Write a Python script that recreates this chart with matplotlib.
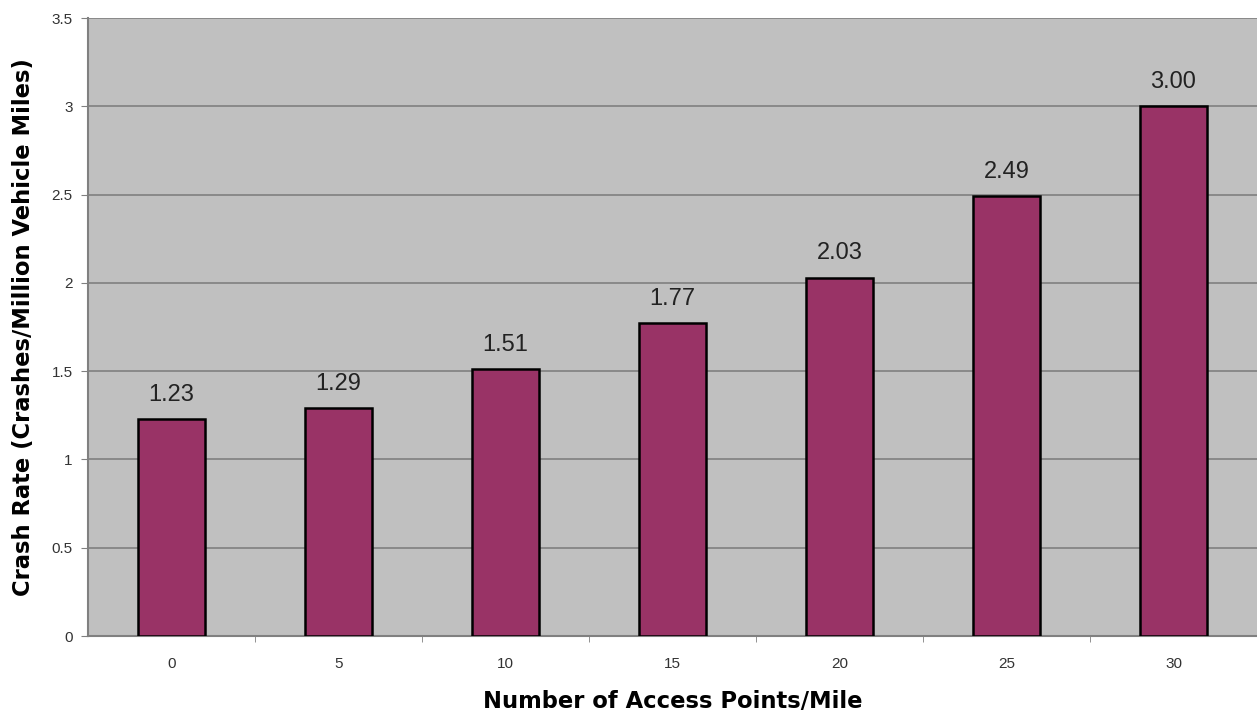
import matplotlib
matplotlib.use('Agg')
import matplotlib.pyplot as plt

plt.rcParams['font.family'] = ['Liberation Sans', 'DejaVu Sans']

access_points = ['0', '5', '10', '15', '20', '25', '30']
crash_rate = [1.23, 1.29, 1.51, 1.77, 2.03, 2.49, 3.00]
y_ticks = [0, 0.5, 1, 1.5, 2, 2.5, 3, 3.5]
y_tick_labels = ['0', '0.5', '1', '1.5', '2', '2.5', '3', '3.5']


def main():
    fig = plt.figure(figsize=(12.57, 7.15), dpi=100)
    ax = fig.add_axes([88 / 1257, 79 / 715, 1 - 88 / 1257, 618 / 715])
    ax.set_facecolor('#c0c0c0')

    x = list(range(len(access_points)))
    ax.bar(x, crash_rate, width=0.4, color='#993366', edgecolor='black',
           linewidth=1.8, zorder=3)
    for xi, val in zip(x, crash_rate):
        ax.text(xi, val + 0.075, '%.2f' % val, ha='center', va='bottom',
                fontsize=17, color='#222222')

    ax.set_xlim(-0.5, len(access_points) - 0.5)
    ax.set_ylim(0, 3.5)
    ax.set_yticks(y_ticks)
    ax.set_yticklabels(y_tick_labels, fontsize=11, color='#333333')
    ax.yaxis.grid(True, color='#808080', linewidth=1.2, zorder=0)
    ax.set_axisbelow(True)

    ax.set_xticks(x)
    ax.set_xticklabels(access_points, fontsize=11, color='#333333')
    ax.set_xticks([i + 0.5 for i in x[:-1]], minor=True)
    ax.tick_params(axis='x', which='major', length=0, pad=15)
    ax.tick_params(axis='x', which='minor', length=4, color='#808080')
    ax.tick_params(axis='y', length=5, color='#808080', pad=6)

    for side in ['top', 'right']:
        ax.spines[side].set_visible(False)
    ax.spines['left'].set_color('#808080')
    ax.spines['left'].set_linewidth(1.5)
    ax.spines['bottom'].set_color('#808080')
    ax.spines['bottom'].set_linewidth(1.5)

    ax.set_xlabel('Number of Access Points/Mile', fontsize=16.3, fontweight='bold',
                  family='DejaVu Sans', labelpad=14)
    ax.set_ylabel('Crash Rate (Crashes/Million Vehicle Miles)', fontsize=16.3,
                  fontweight='bold', family='DejaVu Sans', labelpad=12)

    fig.savefig('out.png', dpi=100)


if __name__ == '__main__':
    main()
